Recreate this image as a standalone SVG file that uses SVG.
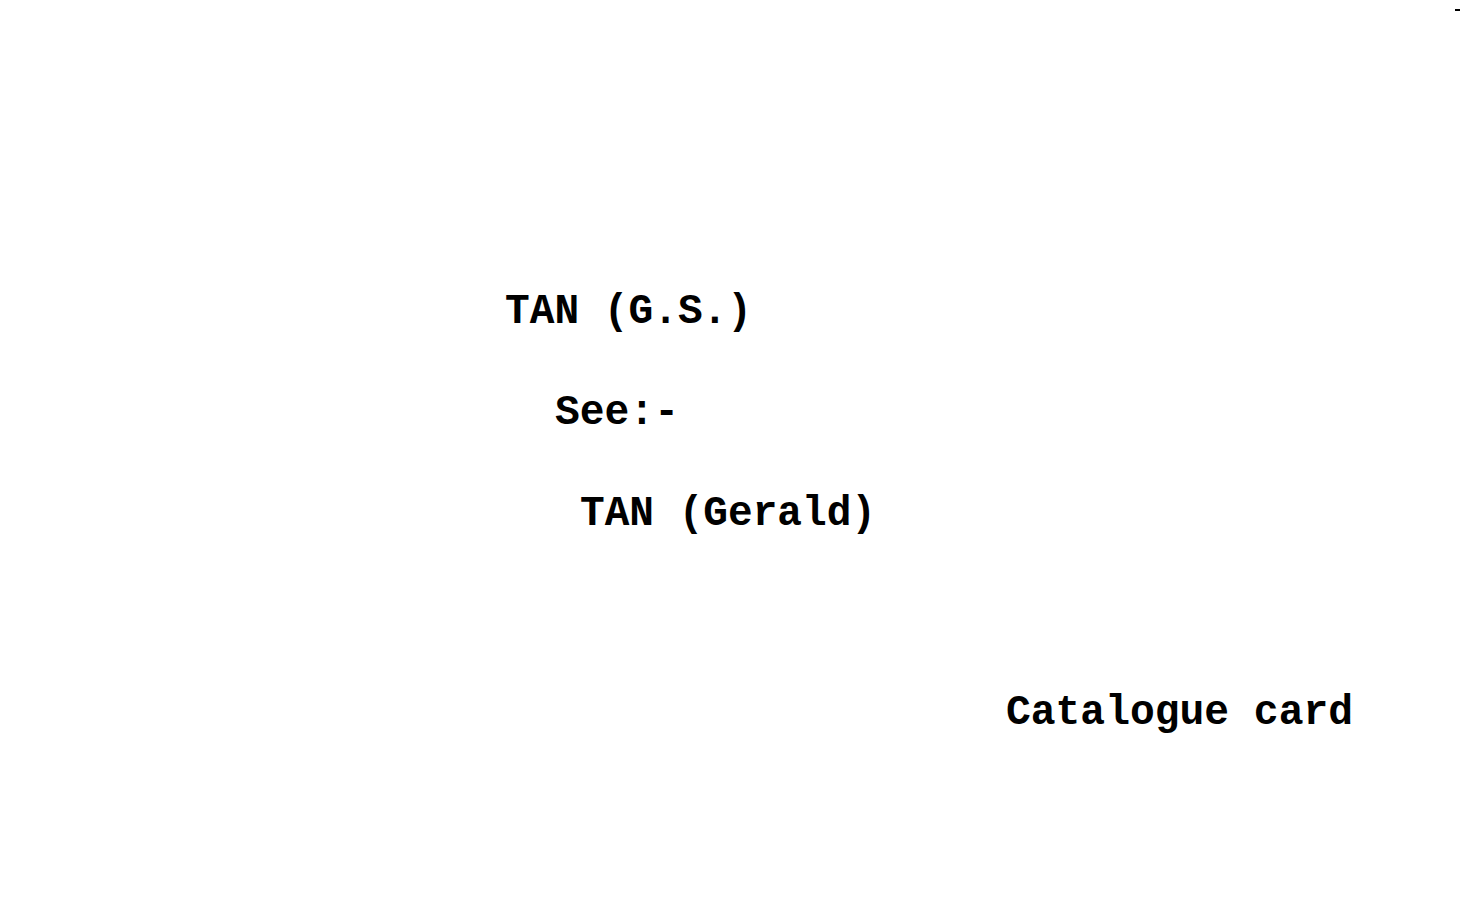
<svg xmlns="http://www.w3.org/2000/svg" width="1477" height="909" viewBox="0 0 1477 909">
<style>
.t{font-family:"Liberation Mono","DejaVu Sans Mono",monospace;font-weight:bold;font-size:42px;fill:#000}
</style>
<rect width="1477" height="909" fill="#fff"/>
<rect x="1455" y="9" width="5" height="2" fill="#000"/>
<g id="card">
<text class="t" x="505" y="323" textLength="247" lengthAdjust="spacingAndGlyphs">TAN (G.S.)</text>
<text class="t" x="555" y="424" textLength="124" lengthAdjust="spacingAndGlyphs">See:-</text>
<text class="t" x="580" y="525" textLength="296" lengthAdjust="spacingAndGlyphs">TAN (Gerald)</text>
<text class="t" x="1006" y="724" textLength="347" lengthAdjust="spacingAndGlyphs">Catalogue card</text>
</g>
</svg>
